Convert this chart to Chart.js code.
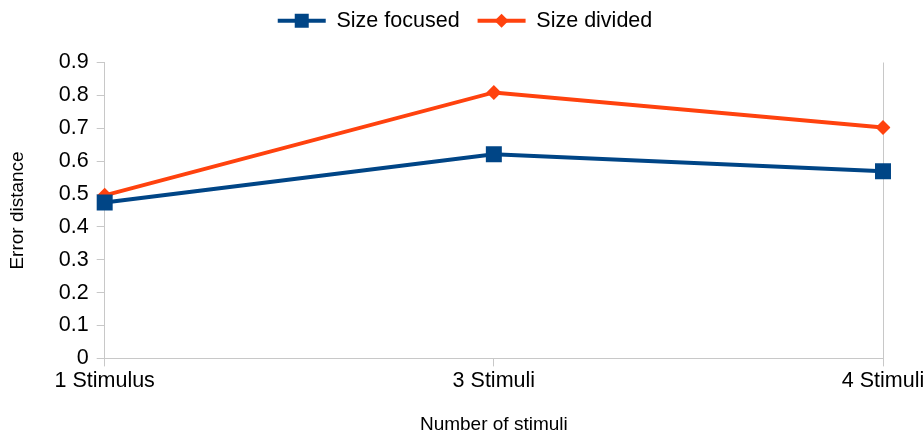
<!DOCTYPE html>
<html>
<head>
<meta charset="utf-8">
<script src="https://cdn.jsdelivr.net/npm/chart.js@4"></script>
<style>
  html, body { margin: 0; padding: 0; background: #fff; }
  #wrap { width: 924px; height: 435px; }
</style>
</head>
<body>
<div id="wrap"><canvas id="chart"></canvas></div>
<script>
const categories = ['1 Stimulus', '3 Stimuli', '4 Stimuli'];
const sizeFocused = [0.474, 0.621, 0.569];
const sizeDivided = [0.496, 0.809, 0.702];
const yTicks = [0, 0.1, 0.2, 0.3, 0.4, 0.5, 0.6, 0.7, 0.8, 0.9];

const BLUE = '#004586';
const ORANGE = '#ff420e';
const GRID = '#c8c8c8';
const FONT = '"Liberation Sans", Arial, sans-serif';

// extra space under the legend
const legendGap = {
    id: 'legendGap',
    beforeUpdate(chart) {
        const legend = chart.legend;
        if (!legend || legend._gapPatched) return;
        const fit = legend.fit;
        legend.fit = function () {
            fit.call(this);
            this.height += 21;
        };
        legend._gapPatched = true;
    }
};

// draws the series marker on top of the legend line
const legendMarkers = {
    id: 'legendMarkers',
    afterDraw(chart) {
        const legend = chart.legend;
        if (!legend || !legend.legendHitBoxes) return;
        const ctx = chart.ctx;
        const boxW = legend.options.labels.boxWidth;
        legend.legendHitBoxes.forEach((box, i) => {
            const ds = chart.data.datasets[i];
            const cx = box.left + boxW / 2;
            const cy = box.top + box.height / 2;
            ctx.save();
            ctx.fillStyle = ds.borderColor;
            ctx.beginPath();
            if (ds.pointStyle === 'rect') {
                ctx.rect(cx - 7, cy - 7, 14, 14);
            } else {
                ctx.moveTo(cx, cy - 7);
                ctx.lineTo(cx + 7, cy);
                ctx.lineTo(cx, cy + 7);
                ctx.lineTo(cx - 7, cy);
                ctx.closePath();
            }
            ctx.fill();
            ctx.restore();
        });
    }
};

new Chart(document.getElementById('chart'), {
    type: 'line',
    data: {
        labels: categories,
        datasets: [
            {
                label: 'Size focused',
                data: sizeFocused,
                borderColor: BLUE,
                backgroundColor: BLUE,
                borderWidth: 4,
                pointStyle: 'rect',
                pointRadius: 11.3,
                pointBackgroundColor: BLUE,
                pointBorderWidth: 0,
                tension: 0
            },
            {
                label: 'Size divided',
                data: sizeDivided,
                borderColor: ORANGE,
                backgroundColor: ORANGE,
                borderWidth: 4,
                pointStyle: 'rectRot',
                pointRadius: 7.5,
                pointBackgroundColor: ORANGE,
                pointBorderWidth: 0,
                tension: 0
            }
        ]
    },
    options: {
        responsive: true,
        maintainAspectRatio: false,
        animation: false,
        layout: { padding: { left: 6, right: 0, top: -8, bottom: -1 } },
        plugins: {
            tooltip: { enabled: false },
            legend: {
                position: 'top',
                labels: {
                    boxWidth: 48,
                    boxHeight: 4,
                    padding: 18,
                    color: '#000',
                    font: { family: FONT, size: 21.5 },
                    generateLabels(chart) {
                        const items = Chart.defaults.plugins.legend.labels.generateLabels(chart);
                        items.forEach(it => { it.lineWidth = 0; });
                        return items;
                    }
                }
            }
        },
        scales: {
            x: {
                offset: false,
                afterFit(scale) {
                    scale.paddingRight = 41;
                },
                grid: {
                    offset: false,
                    color: c => (c.index === categories.length - 1 ? GRID : 'rgba(0,0,0,0)'),
                    tickColor: GRID,
                    lineWidth: 1,
                    tickLength: 8
                },
                border: { color: GRID },
                ticks: {
                    color: '#000',
                    padding: 2,
                    maxRotation: 0,
                    font: { family: FONT, size: 21.5 }
                },
                title: {
                    display: true,
                    text: 'Number of stimuli',
                    color: '#000',
                    padding: { top: 17, bottom: 0 },
                    font: { family: FONT, size: 19 }
                }
            },
            y: {
                min: 0,
                max: 0.9,
                afterBuildTicks(axis) {
                    axis.ticks = yTicks.map(v => ({ value: v }));
                },
                grid: {
                    drawOnChartArea: false,
                    color: GRID,
                    tickLength: 8
                },
                border: { color: GRID },
                ticks: {
                    color: '#000',
                    padding: 8,
                    font: { family: FONT, size: 21.5 }
                },
                title: {
                    display: true,
                    text: 'Error distance',
                    color: '#000',
                    padding: { top: 0, bottom: 22 },
                    font: { family: FONT, size: 19 }
                }
            }
        }
    },
    plugins: [legendGap, legendMarkers]
});
</script>
</body>
</html>
